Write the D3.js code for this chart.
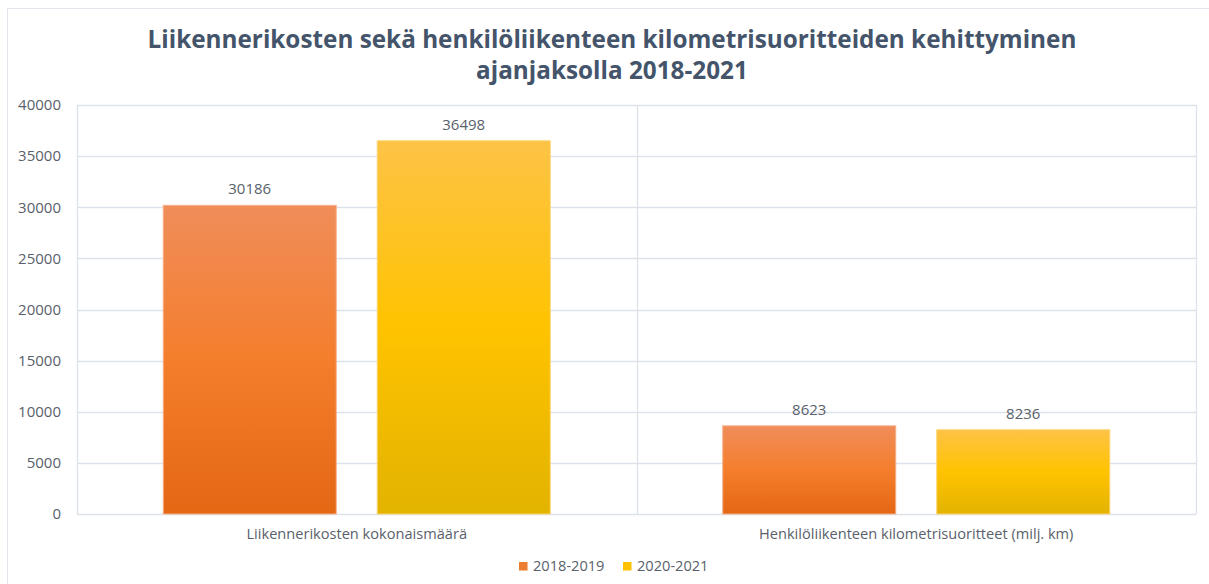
<!DOCTYPE html>
<html><head><meta charset="utf-8">
<script src="https://cdn.jsdelivr.net/npm/d3@7"></script>
<style>
html,body{margin:0;padding:0;background:#fff;}
svg{display:block;font-family:"Open Sans",sans-serif;}
</style></head><body>
<svg id="c" width="1209" height="584"></svg>
<script>
const categories = ["Liikennerikosten kokonaismäärä", "Henkilöliikenteen kilometrisuoritteet (milj. km)"];
const seriesNames = ["2018-2019", "2020-2021"];
const values2018_2019 = [30186, 8623];
const values2020_2021 = [36498, 8236];
const yTicks = [0, 5000, 10000, 15000, 20000, 25000, 30000, 35000, 40000];
const titleLines = ["Liikennerikosten sekä henkilöliikenteen kilometrisuoritteiden kehittyminen", "ajanjaksolla 2018-2021"];

(function () {
const series = [values2018_2019, values2020_2021];
const svg = d3.select("#c");
const pL = 77, pR = 1196, pT = 105, pB = 514;
const textColor = "#595f6b";
const gridColor = "#dde2ea";

svg.append("rect").attr("x", 7.5).attr("y", 8.5).attr("width", 1230).attr("height", 600)
  .attr("fill", "none").attr("stroke", "#e3e6ec").attr("stroke-width", 1);

const defs = svg.append("defs");
const grads = [
  ["g0", "#f08d5a", "#f47e2c", "#e46714"],
  ["g1", "#fdc346", "#ffc300", "#e2b300"]
];
grads.forEach(([id, a, b, c]) => {
  const g = defs.append("linearGradient").attr("id", id).attr("x1", 0).attr("y1", 0).attr("x2", 0).attr("y2", 1);
  g.append("stop").attr("offset", "0%").attr("stop-color", a);
  g.append("stop").attr("offset", "50%").attr("stop-color", b);
  g.append("stop").attr("offset", "100%").attr("stop-color", c);
});
const strokeCols = ["#f6b08a", "#fed36f"];
const fills = ["url(#g0)", "url(#g1)"];
const legendCols = ["#ed7d31", "#ffc000"];

const y = d3.scaleLinear().domain([0, 40000]).range([pB, pT]);
const x0 = d3.scaleBand().domain(categories).range([pL, pR]).paddingInner(0).paddingOuter(0);
const x1 = d3.scaleBand().domain(seriesNames).range([0, x0.bandwidth()]).paddingInner(0.1916).paddingOuter(0.403);

svg.append("g").selectAll("line").data(yTicks).join("line")
  .attr("x1", pL).attr("x2", pR)
  .attr("y1", d => Math.round(y(d)) + 0.5).attr("y2", d => Math.round(y(d)) + 0.5)
  .attr("stroke", gridColor).attr("stroke-width", 1.3);
const vx = [pL, x0(categories[1]), pR];
svg.append("g").selectAll("line").data(vx).join("line")
  .attr("x1", d => Math.round(d) + 0.5).attr("x2", d => Math.round(d) + 0.5)
  .attr("y1", pT).attr("y2", pB)
  .attr("stroke", gridColor).attr("stroke-width", 1.3);

svg.append("g").selectAll("text").data(yTicks).join("text")
  .attr("x", 61).attr("y", d => y(d)).attr("dy", "0.35em")
  .attr("text-anchor", "end").attr("font-size", 15).attr("fill", textColor)
  .text(d => d);

categories.forEach((cat, ci) => {
  seriesNames.forEach((s, si) => {
    const v = series[si][ci];
    const bx = x0(cat) + x1(s);
    svg.append("rect")
      .attr("x", bx).attr("y", y(v)).attr("width", x1.bandwidth()).attr("height", pB - y(v))
      .attr("fill", fills[si]).attr("stroke", strokeCols[si]).attr("stroke-width", 1);
    svg.append("text")
      .attr("x", bx + x1.bandwidth() / 2).attr("y", y(v) - 11)
      .attr("text-anchor", "middle").attr("font-size", 15).attr("fill", textColor)
      .text(v);
  });
  svg.append("text")
    .attr("x", x0(cat) + x0.bandwidth() / 2).attr("y", 539)
    .attr("text-anchor", "middle").attr("font-size", 14.6).attr("fill", textColor)
    .text(cat);
});

svg.append("g").selectAll("text").data(titleLines).join("text")
  .attr("x", 612).attr("y", (d, i) => 48 + i * 31)
  .attr("text-anchor", "middle").attr("font-size", 24.3).attr("font-weight", "bold")
  .attr("fill", "#44546a").text(d => d);

const legX = [519, 623];
seriesNames.forEach((s, i) => {
  svg.append("rect").attr("x", legX[i]).attr("y", 562).attr("width", 8.5).attr("height", 8.5).attr("fill", legendCols[i]);
  svg.append("text").attr("x", legX[i] + 14).attr("y", 566).attr("dy", "0.35em")
    .attr("font-size", 14.6).attr("fill", textColor).text(s);
});
})();
</script>
</body></html>
